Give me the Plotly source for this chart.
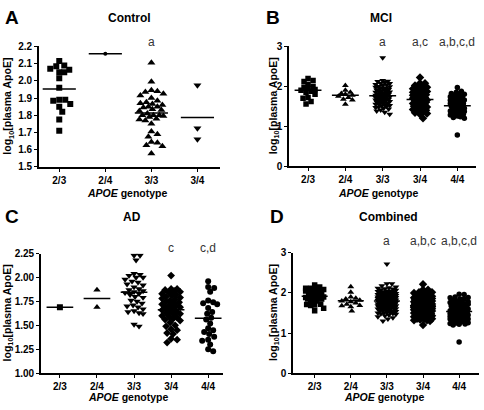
import math
import plotly.graph_objects as go

# ---------------- data ----------------
cats_A = ["2/3", "2/4", "3/3", "3/4"]
cats_BCD = ["2/3", "2/4", "3/3", "3/4", "4/4"]

# Panel A: Control
A_23 = [2.115, 2.09, 2.085, 2.07, 2.065, 2.05, 2.05, 2.015, 1.96, 1.89, 1.885, 1.89,
        1.865, 1.85, 1.82, 1.775, 1.71]
A_24 = [2.158]
A_33 = [2.105, 1.995, 1.945, 1.94, 1.935, 1.925, 1.915, 1.90, 1.885, 1.875, 1.87, 1.865,
        1.86, 1.85, 1.85, 1.845, 1.835, 1.83, 1.825, 1.81, 1.80, 1.80, 1.80, 1.795, 1.79,
        1.78, 1.775, 1.77, 1.75, 1.705, 1.69, 1.675, 1.645, 1.64, 1.625, 1.62, 1.578]
A_34 = [1.975, 1.725, 1.66]

# Panel B: MCI
B_23 = [2.20, 2.15, 2.12, 2.05, 2.00, 1.98, 1.95, 1.92, 1.90, 1.88, 1.85, 1.80, 1.72,
        1.70, 1.62, 1.56]
B_24 = [2.02, 1.90, 1.85, 1.82, 1.80, 1.78, 1.75, 1.72, 1.68, 1.66, 1.55]
B_33 = [2.72, 2.15, 2.13, 2.12, 2.10, 2.08, 2.07, 2.05, 2.04, 2.02, 2.00, 1.99, 1.98,
        1.96, 1.95, 1.94, 1.92, 1.91, 1.90, 1.89, 1.88, 1.87, 1.86, 1.85, 1.84, 1.83,
        1.82, 1.81, 1.80, 1.80, 1.79, 1.78, 1.77, 1.76, 1.76, 1.75, 1.74, 1.73, 1.72,
        1.72, 1.71, 1.70, 1.69, 1.68, 1.68, 1.67, 1.66, 1.65, 1.64, 1.63, 1.62, 1.61,
        1.60, 1.59, 1.58, 1.57, 1.56, 1.55, 1.54, 1.52, 1.51, 1.50, 1.48, 1.47, 1.45,
        1.43, 1.41, 1.38, 1.35, 1.30]
B_34 = [2.22, 2.08, 2.08, 2.02, 2.00, 1.98, 1.96, 1.94, 1.92, 1.90, 1.88, 1.87, 1.85,
        1.84, 1.82, 1.80, 1.79, 1.78, 1.76, 1.75, 1.73, 1.72, 1.70, 1.69, 1.68, 1.66,
        1.65, 1.64, 1.62, 1.61, 1.60, 1.58, 1.57, 1.56, 1.55, 1.53, 1.52, 1.50, 1.49,
        1.48, 1.46, 1.45, 1.43, 1.42, 1.40, 1.38, 1.36, 1.34, 1.32, 1.30, 1.20]
B_44 = [1.97, 1.88, 1.85, 1.82, 1.80, 1.78, 1.76, 1.74, 1.72, 1.70, 1.68, 1.66, 1.65,
        1.63, 1.62, 1.60, 1.58, 1.57, 1.55, 1.54, 1.52, 1.51, 1.50, 1.49, 1.48, 1.46,
        1.45, 1.44, 1.42, 1.41, 1.40, 1.38, 1.37, 1.35, 1.34, 1.32, 1.30, 1.28, 1.26,
        1.24, 1.22, 1.20, 0.78]

# Panel C: AD
C_23 = [1.69]
C_24 = [1.87, 1.69]
C_33 = [2.23, 2.23, 2.18, 2.04, 2.03, 2.02, 2.00, 2.00, 1.98, 1.96, 1.95, 1.93, 1.92,
        1.90, 1.88, 1.87, 1.86, 1.85, 1.84, 1.83, 1.82, 1.80, 1.79, 1.76, 1.75, 1.73,
        1.71, 1.70, 1.69, 1.67, 1.65, 1.64, 1.63, 1.62, 1.51, 1.49]
C_34 = [2.02, 1.88, 1.88, 1.87, 1.86, 1.85, 1.84, 1.83, 1.82, 1.81, 1.80, 1.79, 1.78,
        1.77, 1.76, 1.75, 1.74, 1.73, 1.72, 1.71, 1.70, 1.69, 1.69, 1.68, 1.67, 1.66,
        1.65, 1.64, 1.63, 1.62, 1.61, 1.60, 1.59, 1.58, 1.57, 1.56, 1.55, 1.53, 1.50,
        1.49, 1.46, 1.45, 1.42, 1.41, 1.36, 1.35, 1.32]
C_44 = [1.96, 1.90, 1.89, 1.85, 1.76, 1.74, 1.73, 1.72, 1.68, 1.64, 1.62, 1.58, 1.56,
        1.52, 1.47, 1.45, 1.43, 1.41, 1.38, 1.35, 1.34, 1.30, 1.25, 1.23]

# Panel D: Combined = all groups pooled
D_23 = A_23 + B_23 + C_23
D_24 = A_24 + B_24 + C_24
D_33 = A_33 + B_33 + C_33
D_34 = A_34 + B_34 + C_34
D_44 = B_44 + C_44

sig_A = ["", "", "a", ""]
sig_B = ["", "", "a", "a,c", "a,b,c,d"]
sig_C = ["", "", "", "c", "c,d"]
sig_D = ["", "", "a", "a,b,c", "a,b,c,d"]

# ---------------- layout helpers ----------------
W, H = 484, 410
FONT = "Liberation Sans, Arial, Helvetica, sans-serif"

panels = [
    dict(name="A", title="Control", groups=[A_23, A_24, A_33, A_34], cats=cats_A, sig=sig_A,
         box=(39, 220, 41.7, 165.7), yr=[1.5, 2.2], xr=[-0.44, 3.49], dtick=0.1, fmt=".1f",
         symbols=["square", "circle", "triangle-up", "triangle-down"], sizes=[6, 4, 7, 7],
         diam=6.0, maxhalf=12, sig_y=37, title_y=12, ytitle_x=8, xtitle_y=193, xtitle_x=127,
         title_x=129, letter_x=3),
    dict(name="B", title="MCI", groups=[B_23, B_24, B_33, B_34, B_44], cats=cats_BCD, sig=sig_B,
         box=(289, 476, 41.7, 165), yr=[0, 3], xr=[-0.51, 4.5], dtick=1, fmt="d",
         symbols=["square", "triangle-up", "triangle-down", "diamond", "circle"],
         sizes=[5.5, 6, 6, 6.5, 5.5], diam=4.8, maxhalf=7, sig_y=37, title_y=12,
         ytitle_x=274, xtitle_y=193, xtitle_x=378, title_x=381, letter_x=264),
    dict(name="C", title="AD", groups=[C_23, C_24, C_33, C_34, C_44], cats=cats_BCD, sig=sig_C,
         box=(41, 223, 255, 378.3), yr=[1.0, 2.25], xr=[-0.51, 4.4], dtick=0.25, fmt=".2f",
         symbols=["square", "triangle-up", "triangle-down", "diamond", "circle"],
         sizes=[6, 6.5, 6.5, 6, 6], diam=5.2, maxhalf=9, sig_y=249, title_y=217,
         ytitle_x=8, xtitle_y=403, xtitle_x=128, title_x=132, letter_x=3),
    dict(name="D", title="Combined", groups=[D_23, D_24, D_33, D_34, D_44], cats=cats_BCD,
         sig=sig_D, box=(293, 479, 254.3, 378.3), yr=[0, 3], xr=[-0.6, 4.55], dtick=1, fmt="d",
         symbols=["square", "triangle-up", "triangle-down", "diamond", "circle"],
         sizes=[5.5, 6, 6, 6.5, 5.5], diam=4.6, maxhalf=9, sig_y=242, title_y=217,
         ytitle_x=274, xtitle_y=403, xtitle_x=384, title_x=388, letter_x=268),
]


def swarm(vals, ppu_y, ppu_x, diam, maxhalf):
    """Deterministic beeswarm: horizontal offsets (category units) from values."""
    cands = [0]
    for k in range(1, int(maxhalf) + 1):
        cands += [k, -k]
    order = sorted(range(len(vals)), key=lambda i: -vals[i])
    placed = []
    off = [0.0] * len(vals)
    for i in order:
        y = vals[i] * ppu_y
        best, best_md = 0, -1.0
        for c in cands:
            md = min((math.hypot(c - px, y - py) for px, py in placed), default=1e9)
            if md >= diam:
                best = c
                break
            if md > best_md + 0.25:
                best_md, best = md, c
        placed.append((best, y))
        off[i] = best / ppu_x
    return off


fig = go.Figure()
annotations = []
layout_axes = {}

for k, p in enumerate(panels):
    n = k + 1
    xa = "x" if n == 1 else f"x{n}"
    ya = "y" if n == 1 else f"y{n}"
    left, right, top, bottom = p["box"]
    ppu_x = (right - left) / (p["xr"][1] - p["xr"][0])
    ppu_y = (bottom - top) / (p["yr"][1] - p["yr"][0])

    for i, vals in enumerate(p["groups"]):
        offs = swarm(vals, ppu_y, ppu_x, p["diam"], p["maxhalf"])
        fig.add_trace(go.Scatter(
            x=[i + o for o in offs], y=vals, mode="markers", xaxis=xa, yaxis=ya,
            marker=dict(symbol=p["symbols"][i], size=p["sizes"][i], color="black",
                        line=dict(width=0)),
            showlegend=False, hoverinfo="y"))
        m = sum(vals) / len(vals)
        fig.add_trace(go.Scatter(
            x=[i - 0.36, i + 0.36], y=[m, m], mode="lines", xaxis=xa, yaxis=ya,
            line=dict(color="black", width=1.5), showlegend=False, hoverinfo="skip"))
        if p["sig"][i]:
            annotations.append(dict(
                x=i, xref=xa, y=1 - p["sig_y"] / H, yref="paper", text=p["sig"][i],
                showarrow=False, xanchor="center", yanchor="middle",
                font=dict(family=FONT, size=12, color="#333")))

    # y tick values
    yv = []
    v = p["yr"][0]
    while v <= p["yr"][1] + 1e-9:
        yv.append(round(v, 4))
        v += p["dtick"]
    if p["fmt"] == "d":
        yt = [str(int(t)) for t in yv]
    else:
        yt = [format(t, p["fmt"]) for t in yv]

    axis_common = dict(showline=True, linecolor="black", linewidth=1.6, ticks="outside",
                       ticklen=3, tickwidth=1.4, tickcolor="black", showgrid=False,
                       zeroline=False, tickfont=dict(family=FONT, size=10, color="black",
                                                     weight="bold"))
    layout_axes["xaxis" if n == 1 else f"xaxis{n}"] = dict(
        axis_common, domain=[left / W, right / W], range=p["xr"], anchor=ya,
        tickvals=list(range(len(p["cats"]))), ticktext=p["cats"])
    layout_axes["yaxis" if n == 1 else f"yaxis{n}"] = dict(
        axis_common, domain=[1 - bottom / H, 1 - top / H], range=p["yr"], anchor=xa,
        tickvals=yv, ticktext=yt)

    # panel letter
    annotations.append(dict(x=p["letter_x"] / W, y=1 - p["title_y"] / H, xref="paper",
                            yref="paper", text=f"<b>{p['name']}</b>", showarrow=False,
                            xanchor="left", yanchor="middle",
                            font=dict(family=FONT, size=19, color="black")))
    # panel title
    annotations.append(dict(x=p["title_x"] / W, y=1 - p["title_y"] / H, xref="paper",
                            yref="paper", text=f"<b>{p['title']}</b>", showarrow=False,
                            xanchor="center", yanchor="middle",
                            font=dict(family=FONT, size=12, color="black")))
    # x title
    annotations.append(dict(x=p["xtitle_x"] / W, y=1 - p["xtitle_y"] / H, xref="paper",
                            yref="paper", text="<b><i>APOE</i> genotype</b>",
                            showarrow=False, xanchor="center", yanchor="middle",
                            font=dict(family=FONT, size=10.5, color="black")))
    # y title
    annotations.append(dict(x=p["ytitle_x"] / W, y=1 - (top + bottom) / 2 / H, xref="paper",
                            yref="paper", text="<b>log<sub>10</sub>[plasma ApoE]</b>",
                            showarrow=False, textangle=-90, xanchor="center",
                            yanchor="middle", font=dict(family=FONT, size=10.5,
                                                        color="black")))

fig.update_layout(width=W, height=H, margin=dict(l=0, r=0, t=0, b=0),
                  paper_bgcolor="white", plot_bgcolor="white",
                  annotations=annotations, **layout_axes)

fig.write_html("out.html", config={"displayModeBar": False},
               post_script="document.body.style.margin='0px';"
                           "document.body.style.overflow='hidden';")
